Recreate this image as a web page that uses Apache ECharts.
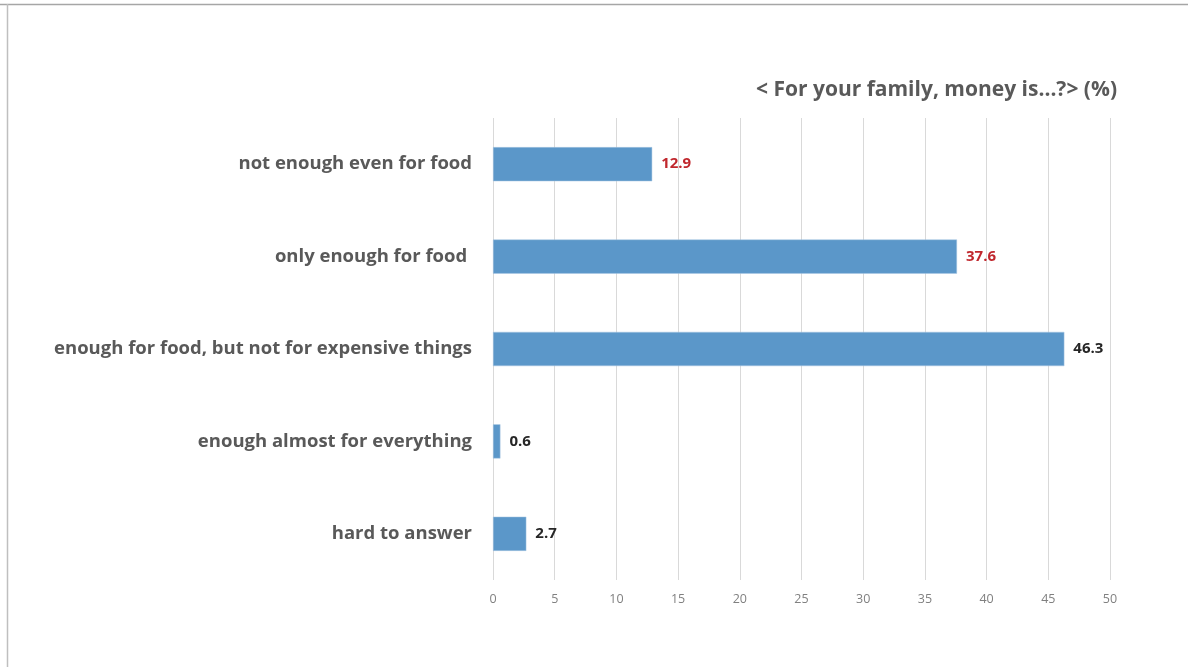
<!DOCTYPE html>
<html>
<head>
<meta charset="utf-8">
<script src="https://cdn.jsdelivr.net/npm/echarts@6/dist/echarts.min.js"></script>
<style>
html,body{margin:0;padding:0;background:#fff;}
#main{width:1188px;height:667px;}
</style>
</head>
<body>
<div id="main"></div>
<script>
const titleText = '< For your family, money is...?> (%)';
const categories = [
  'not enough even for food',
  'only enough for food ',
  'enough for food, but not for expensive things',
  'enough almost for everything',
  'hard to answer'
];
const values = [12.9, 37.6, 46.3, 0.6, 2.7];
const labelColors = ['#C0272D', '#C0272D', '#262626', '#262626', '#262626'];
const xTicks = { min: 0, max: 50, interval: 5 };

const chart = echarts.init(document.getElementById('main'));
chart.setOption({
  backgroundColor: '#fff',
  animation: false,
  graphic: [
    { type: 'line', shape: { x1: 0, y1: 4.5, x2: 1188, y2: 4.5 }, style: { stroke: '#A6A6A6', lineWidth: 1.5 } },
    { type: 'line', shape: { x1: 7.5, y1: 4, x2: 7.5, y2: 667 }, style: { stroke: '#BFBFBF', lineWidth: 1.5 } }
  ],
  title: {
    text: titleText,
    right: 66,
    top: 75,
    textStyle: { fontFamily: 'Open Sans', fontWeight: 'bold', fontSize: 21, color: '#595959' }
  },
  grid: { left: 493, right: 78, top: 118, bottom: 87, containLabel: false },
  xAxis: {
    type: 'value',
    min: xTicks.min, max: xTicks.max, interval: xTicks.interval,
    axisLine: { show: false },
    axisTick: { show: false },
    axisLabel: { color: '#808080', fontFamily: 'Open Sans', fontSize: 12.5, margin: 13 },
    splitLine: { show: true, lineStyle: { color: '#D9D9D9', width: 1 } }
  },
  yAxis: {
    type: 'category',
    data: categories,
    inverse: true,
    axisLine: { show: false },
    axisTick: { show: false },
    axisLabel: { color: '#595959', fontFamily: 'Open Sans', fontWeight: 'bold', fontSize: 18.5, margin: 21 }
  },
  series: [{
    type: 'bar',
    data: values.map((v, i) => ({
      value: v,
      label: { color: labelColors[i] }
    })),
    barWidth: '37%',
    itemStyle: { color: '#5B97C9', borderColor: '#A9C6E3', borderWidth: 0.5 },
    label: {
      show: true,
      position: 'right',
      distance: 9,
      fontFamily: 'Open Sans',
      fontWeight: 'bold',
      fontSize: 15,
      formatter: p => p.value.toFixed(1)
    }
  }]
});
</script>
</body>
</html>
